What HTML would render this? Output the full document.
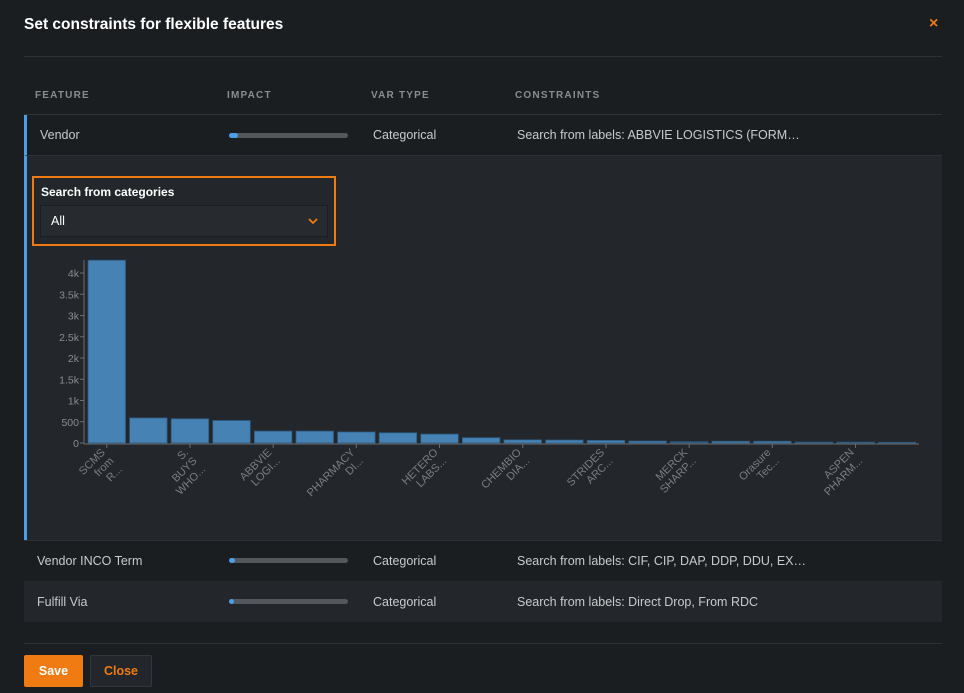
<!DOCTYPE html>
<html><head><meta charset="utf-8"><style>
*{box-sizing:border-box;margin:0;padding:0}
body{width:964px;height:693px;background:#1b1e21;font-family:"Liberation Sans",sans-serif;color:#c8cacc;position:relative;overflow:hidden}
.a{position:absolute}
.hd{font-size:10px;font-weight:bold;letter-spacing:1.2px;color:#8a8d90;top:90px}
.t{font-size:12.5px;color:#c8cacc}
.bar{position:absolute;height:5px;width:119px;background:#54585c;border-radius:3px}
.bar i{position:absolute;left:0;top:0;height:5px;border-radius:3px;background:#4a9fe8}
</style></head><body>
<div class="a" style="left:24px;top:16px;font-size:15.5px;font-weight:bold;color:#fff">Set constraints for flexible features</div>
<div class="a" style="left:929px;top:15px;font-size:16px;font-weight:bold;color:#f07b12">×</div>
<div class="a" style="left:24px;top:56px;width:918px;height:1px;background:#2e3236"></div>
<div class="a hd" style="left:35px">FEATURE</div>
<div class="a hd" style="left:227px">IMPACT</div>
<div class="a hd" style="left:371px">VAR TYPE</div>
<div class="a hd" style="left:515px">CONSTRAINTS</div>
<div class="a" style="left:24px;top:114px;width:918px;height:1px;background:#2e3236"></div>
<div class="a" style="left:24px;top:115px;width:918px;height:40px;background:#1b1e21;border-left:3px solid #4a9fe8"></div>
<div class="a t" style="left:40px;top:128px">Vendor</div>
<div class="bar a" style="left:229px;top:133px"><i style="width:9px"></i></div>
<div class="a t" style="left:373px;top:128px">Categorical</div>
<div class="a t" style="left:517px;top:128px">Search from labels: ABBVIE LOGISTICS (FORM…</div>
<div class="a" style="left:24px;top:155px;width:918px;height:385px;background:#23272b;border-left:3px solid #4a9fe8;border-top:1px solid #2e3236"></div>
<div class="a" style="left:32px;top:176px;width:304px;height:70px;border:2px solid #f07b12"></div>
<div class="a" style="left:41px;top:185px;font-size:12px;font-weight:bold;color:#fff">Search from categories</div>
<div class="a" style="left:40px;top:205px;width:288px;height:32px;background:#272b30;border:1px solid #1c1f22"></div>
<div class="a" style="left:51px;top:214px;font-size:12.5px;color:#fff">All</div>
<svg class="a" style="left:307px;top:217px" width="12" height="8"><polyline points="2,2 6,6 10,2" fill="none" stroke="#f07b12" stroke-width="1.8"/></svg>
<svg class="a" style="left:0;top:0" width="964" height="693">
<g font-family="Liberation Sans,sans-serif" font-size="10.5" fill="#8a8d90" text-anchor="end">
<line x1="84" y1="260" x2="84" y2="444" stroke="#6a6e72"/>
<line x1="84" y1="444" x2="919" y2="444" stroke="#6a6e72"/>
<g id="yt"></g>
</g>
<g id="bars"></g>
<g id="xl" font-family="Liberation Sans,sans-serif" font-size="11" fill="#7a7e82" text-anchor="end"></g>
</svg>
<div class="a" style="left:24px;top:540px;width:918px;height:41px;background:#1b1e21;border-top:1px solid #2e3236"></div>
<div class="a t" style="left:37px;top:554px">Vendor INCO Term</div>
<div class="bar a" style="left:229px;top:558px"><i style="width:6px"></i></div>
<div class="a t" style="left:373px;top:554px">Categorical</div>
<div class="a t" style="left:517px;top:554px">Search from labels: CIF, CIP, DAP, DDP, DDU, EX…</div>
<div class="a" style="left:24px;top:581px;width:918px;height:41px;background:#23272b"></div>
<div class="a t" style="left:37px;top:595px">Fulfill Via</div>
<div class="bar a" style="left:229px;top:599px"><i style="width:5px"></i></div>
<div class="a t" style="left:373px;top:595px">Categorical</div>
<div class="a t" style="left:517px;top:595px">Search from labels: Direct Drop, From RDC</div>
<div class="a" style="left:24px;top:643px;width:918px;height:1px;background:#2e3236"></div>
<div class="a" style="left:24px;top:655px;width:59px;height:32px;background:#f07b12;border-radius:2px;color:#fff;font-weight:bold;font-size:12.5px;text-align:center;line-height:32px">Save</div>
<div class="a" style="left:90px;top:655px;width:62px;height:32px;background:#23272b;border:1px solid #33373b;border-radius:2px;color:#f07b12;font-weight:bold;font-size:12.5px;text-align:center;line-height:30px">Close</div>
<script>
var ns="http://www.w3.org/2000/svg",yt=document.getElementById("yt");
var ys=["0","500","1k","1.5k","2k","2.5k","3k","3.5k","4k"];
ys.forEach(function(s,i){var y=443-i*21.25;var t=document.createElementNS(ns,"text");t.setAttribute("x",79);t.setAttribute("y",y+4);t.textContent=s;yt.appendChild(t);
var l=document.createElementNS(ns,"line");l.setAttribute("x1",80);l.setAttribute("x2",84);l.setAttribute("y1",y);l.setAttribute("y2",y);l.setAttribute("stroke","#6a6e72");yt.appendChild(l);});
var v=[4300,590,570,530,280,280,260,240,210,125,75,70,60,45,30,40,40,20,20,15];
var P=41.6,W=37.5;
var b=document.getElementById("bars");
v.forEach(function(h,i){var x=88+i*P,hh=h*0.0425;var r=document.createElementNS(ns,"rect");r.setAttribute("x",x);r.setAttribute("y",443-hh);r.setAttribute("width",W);r.setAttribute("height",hh);r.setAttribute("fill",(i==14||i==18)?"#3a5f82":"#4682b4");r.setAttribute("stroke","#2d5a80");r.setAttribute("stroke-width","0.8");b.appendChild(r);});
var L=[["SCMS","from","R..."],["S.","BUYS","WHO..."],["ABBVIE","LOGI..."],["PHARMACY","DI..."],["HETERO","LABS..."],["CHEMBIO","DIA..."],["STRIDES","ARC..."],["MERCK","SHARP..."],["Orasure","Tec..."],["ASPEN","PHARM..."]];
var xl=document.getElementById("xl");
L.forEach(function(ls,k){var cx=88+2*k*P+W/2;var tk=document.createElementNS(ns,"line");tk.setAttribute("x1",cx);tk.setAttribute("x2",cx);tk.setAttribute("y1",444);tk.setAttribute("y2",448);tk.setAttribute("stroke","#6a6e72");xl.appendChild(tk);
var t=document.createElementNS(ns,"text");t.setAttribute("transform","translate("+(cx-1)+",453) rotate(-45)");
ls.forEach(function(s,j){var sp=document.createElementNS(ns,"tspan");sp.setAttribute("x",0);sp.setAttribute("dy",j?12:0);sp.textContent=s;t.appendChild(sp);});xl.appendChild(t);});
</script>
</body></html>
